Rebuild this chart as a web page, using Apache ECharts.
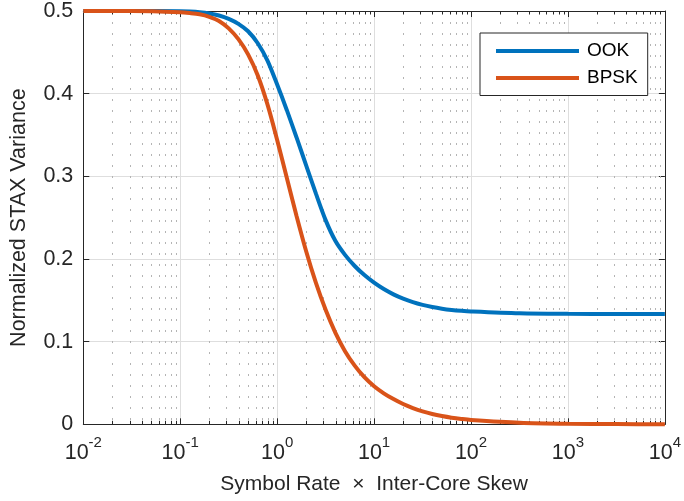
<!DOCTYPE html>
<html><head><meta charset="utf-8">
<script src="https://cdn.jsdelivr.net/npm/echarts@6/dist/echarts.min.js"></script>
<style>html,body{margin:0;padding:0;background:#fff}#c{width:684px;height:501px}</style>
</head><body><div id="c"></div>
<script>
// symbol rate x inter-core skew (log scale)
const xValues = [0.01, 0.03162, 0.1, 0.1259, 0.1585, 0.1995, 0.2512, 0.3162, 0.3981, 0.5012,
  0.631, 0.7943, 1, 1.259, 1.585, 1.995, 2.512, 3.162, 3.981, 5.012,
  6.31, 7.943, 10, 12.59, 15.85, 19.95, 25.12, 31.62, 39.81, 50.12,
  63.1, 79.43, 100, 316.2, 1000, 3162, 10000];
const ookValues = [0.5000, 0.5000, 0.4997, 0.4993, 0.4985, 0.4970, 0.4945, 0.4905, 0.4845, 0.4755,
  0.4610, 0.4400, 0.4110, 0.3800, 0.3470, 0.3130, 0.2790, 0.2470, 0.2220, 0.2050,
  0.1915, 0.1805, 0.1713, 0.1636, 0.1572, 0.1520, 0.1478, 0.1445, 0.1419, 0.1399,
  0.1384, 0.1373, 0.1365, 0.1343, 0.1336, 0.1334, 0.1333];
const bpskValues = [0.5000, 0.4999, 0.4985, 0.4975, 0.4960, 0.4930, 0.4880, 0.4790, 0.4660, 0.4475,
  0.4220, 0.3870, 0.3440, 0.2980, 0.2520, 0.2090, 0.1710, 0.1385, 0.1110, 0.0885,
  0.0710, 0.0570, 0.0460, 0.0375, 0.0305, 0.0245, 0.0197, 0.0157, 0.0125, 0.0100,
  0.0080, 0.0065, 0.0053, 0.0020, 0.0007, 0.0003, 0.0001];
const seriesNames = ['OOK', 'BPSK'];
const xTickExponents = [-2, -1, 0, 1, 2, 3, 4];
const yTicks = [0, 0.1, 0.2, 0.3, 0.4, 0.5];
const minorMultipliers = [2, 3, 4, 5, 6, 7, 8, 9];
const decades = [0.01, 0.1, 1, 10, 100, 1000];

const FONT = '"Liberation Sans", Arial, Helvetica, sans-serif';
const DARK = '#262626';
const xMin = Math.pow(10, xTickExponents[0]);
const xMax = Math.pow(10, xTickExponents[xTickExponents.length - 1]);
const yMin = yTicks[0], yMax = yTicks[yTicks.length - 1];

const minorX = [];
decades.forEach(d => minorMultipliers.forEach(m => minorX.push([d * m, yMin])));

const chart = echarts.init(document.getElementById('c'), null, {renderer: 'canvas'});

function xLabel(v) {
  const e = Math.round(Math.log10(v));
  return '{b|10}{s|' + e + '}';
}

const option = {
  animation: false,
  backgroundColor: '#fff',
  textStyle: {fontFamily: FONT},
  grid: {left: 83.3, right: 16.3, top: 5.5, bottom: 76.7, containLabel: false},
  legend: {
    data: seriesNames.map(n => ({name: n, icon: 'rect'})),
    orient: 'vertical', left: 480, top: 33,
    itemWidth: 83, itemHeight: 4, itemGap: 8,
    padding: [8.5, 10, 8, 16],
    borderColor: DARK, borderWidth: 1, backgroundColor: '#fff',
    textStyle: {fontSize: 19, color: '#000', lineHeight: 19, fontFamily: FONT, padding: [0, 0, 0, 3]}
  },
  xAxis: [{
    type: 'log', logBase: 10, min: xMin, max: xMax, splitNumber: 6, position: 'bottom',
    axisLine: {onZero: false, lineStyle: {color: DARK, width: 1}},
    axisTick: {inside: true, length: 6, lineStyle: {color: DARK}},
    axisLabel: {
      formatter: xLabel, margin: 11, color: DARK,
      rich: {
        b: {fontSize: 21.5, fontFamily: FONT, color: DARK, verticalAlign: 'bottom', padding: [7, 0, 0, 0]},
        s: {fontSize: 15, fontFamily: FONT, color: DARK, verticalAlign: 'top'}
      }
    },
    splitLine: {show: true, lineStyle: {color: '#dedede', width: 1}},
    name: 'Symbol Rate  ×  Inter-Core Skew', nameLocation: 'middle', nameGap: 49,
    nameTextStyle: {fontSize: 21, color: DARK, fontFamily: FONT}
  }, {
    type: 'log', logBase: 10, min: xMin, max: xMax, splitNumber: 6, position: 'top',
    axisLine: {onZero: false, lineStyle: {color: DARK, width: 1}},
    axisTick: {inside: true, length: 6, lineStyle: {color: DARK}},
    axisLabel: {show: false}, splitLine: {show: false}
  }],
  yAxis: [{
    type: 'value', min: yMin, max: yMax, interval: 0.1, position: 'left',
    axisLine: {show: true, lineStyle: {color: DARK, width: 1}},
    axisTick: {show: true, inside: true, length: 6, lineStyle: {color: DARK}},
    axisLabel: {fontSize: 21.5, color: DARK, margin: 10, fontFamily: FONT,
      formatter: v => (v === 0 ? '0' : v.toFixed(1))},
    splitLine: {show: true, lineStyle: {color: '#dedede', width: 1}},
    name: 'Normalized STAX Variance', nameLocation: 'middle', nameRotate: 90, nameGap: 53,
    nameTextStyle: {fontSize: 21.5, color: DARK, fontFamily: FONT}
  }, {
    type: 'value', min: yMin, max: yMax, interval: 0.1, position: 'right',
    axisLine: {show: true, lineStyle: {color: DARK, width: 1}},
    axisTick: {show: true, inside: true, length: 6, lineStyle: {color: DARK}},
    axisLabel: {show: false}, splitLine: {show: false}
  }],
  series: [{
    type: 'custom', silent: true, z: 1, clip: false,
    xAxisIndex: 0, yAxisIndex: 0,
    data: minorX,
    renderItem: function (params, api) {
      const x = api.value(0);
      const b = api.coord([x, yMin]);
      const t = api.coord([x, yMax]);
      const px = Math.round(b[0]) + 0.5;
      return {type: 'group', children: [
        {type: 'line', shape: {x1: px, y1: t[1], x2: px, y2: b[1]},
          style: {stroke: '#b4b4b4', lineWidth: 1, lineDash: [2, 9]}},
        {type: 'line', shape: {x1: px, y1: b[1], x2: px, y2: b[1] - 3.5},
          style: {stroke: DARK, lineWidth: 1}},
        {type: 'line', shape: {x1: px, y1: t[1], x2: px, y2: t[1] + 3.5},
          style: {stroke: DARK, lineWidth: 1}}
      ]};
    }
  }, {
    name: seriesNames[0], type: 'line', z: 3, clip: false,
    data: xValues.map((x, i) => [x, ookValues[i]]),
    showSymbol: false, smooth: 0.3, color: '#0072BD',
    lineStyle: {width: 4, color: '#0072BD'}
  }, {
    name: seriesNames[1], type: 'line', z: 4, clip: false,
    data: xValues.map((x, i) => [x, bpskValues[i]]),
    showSymbol: false, smooth: 0.3, color: '#D95319',
    lineStyle: {width: 4, color: '#D95319'}
  }]
};
chart.setOption(option);
</script>
</body></html>
